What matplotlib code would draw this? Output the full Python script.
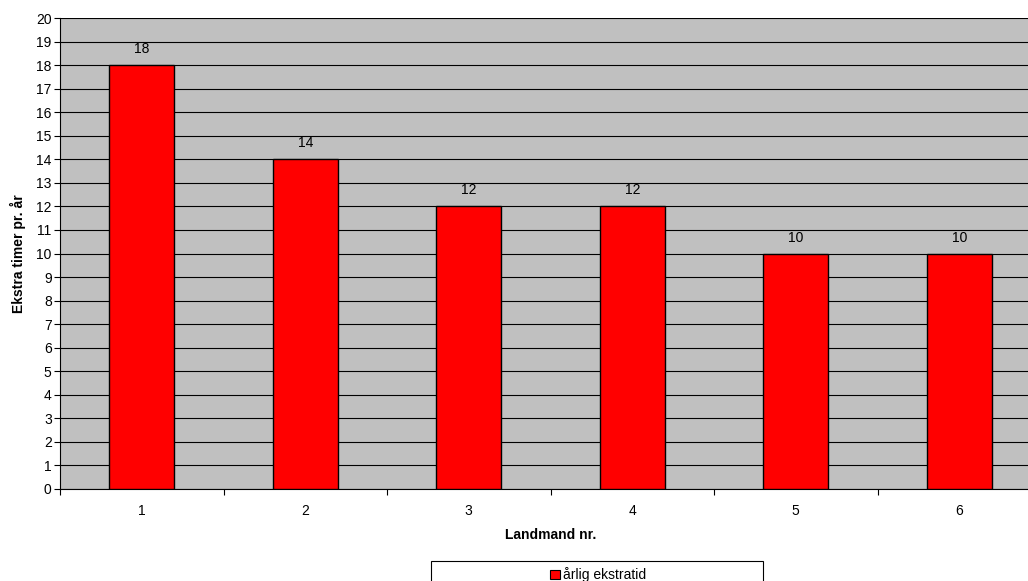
import matplotlib
matplotlib.use("Agg")
import matplotlib.pyplot as plt
from matplotlib.patches import Rectangle, Patch

categories = ["1", "2", "3", "4", "5", "6"]
values = [18, 14, 12, 12, 10, 10]
series_name = "årlig ekstratid"
x_label = "Landmand nr."
y_label = "Ekstra timer pr. år"

plt.rcParams["font.family"] = ["Liberation Sans", "DejaVu Sans"]
plt.rcParams["font.size"] = 10

W, H = 1028, 581
fig = plt.figure(figsize=(W / 100, H / 100), dpi=100)
ax = fig.add_axes([60 / W, 1 - 489 / H, 981 / W, (489 - 18) / H])
ax.set_facecolor("#C0C0C0")

x = list(range(1, len(categories) + 1))
ax.bar(x, values, width=0.4, color="#FF0000", edgecolor="black",
       linewidth=1, zorder=3)
for xi, v in zip(x, values):
    ax.annotate(str(v), (xi, v), xytext=(0, 11.5), textcoords="offset points",
                ha="center", va="center", fontsize=10)

ax.set_xlim(0.5, len(categories) + 0.5)
ax.set_ylim(0, 20)
ax.set_yticks(range(0, 21))
ax.yaxis.grid(True, color="black", linewidth=0.8, zorder=1)
ax.set_axisbelow(True)

ax.set_xticks([i + 0.5 for i in range(len(categories) + 1)])
ax.set_xticklabels([])
ax.set_xticks(x, minor=True)
ax.set_xticklabels(categories, minor=True)
ax.tick_params(axis="x", which="major", direction="out", length=4, width=0.8)
ax.tick_params(axis="x", which="minor", length=0, pad=11)
ax.tick_params(axis="y", direction="out", length=4, width=0.8, pad=2)

for side in ("top", "right"):
    ax.spines[side].set_visible(False)
ax.spines["left"].set_linewidth(0.8)
ax.spines["bottom"].set_linewidth(0.8)

ax.set_xlabel(x_label, fontweight="bold", fontsize=10, labelpad=7)
ax.set_ylabel(y_label, fontweight="bold", fontsize=10, labelpad=7)

# legend box below the plot
fig.patches.append(Rectangle((431 / W, -0.02), 332 / W, 1 - 561 / H + 0.02,
                             transform=fig.transFigure, facecolor="white",
                             edgecolor="black", linewidth=0.8))
fig.legend(handles=[Patch(facecolor="#FF0000", edgecolor="black", linewidth=0.8,
                          label=series_name)],
           loc="center", bbox_to_anchor=(598 / W, 1 - 575 / H), frameon=False,
           handlelength=0.7, handleheight=0.7, handletextpad=0.2, fontsize=10,
           borderpad=0, borderaxespad=0)

fig.savefig("out.png", dpi=100)
